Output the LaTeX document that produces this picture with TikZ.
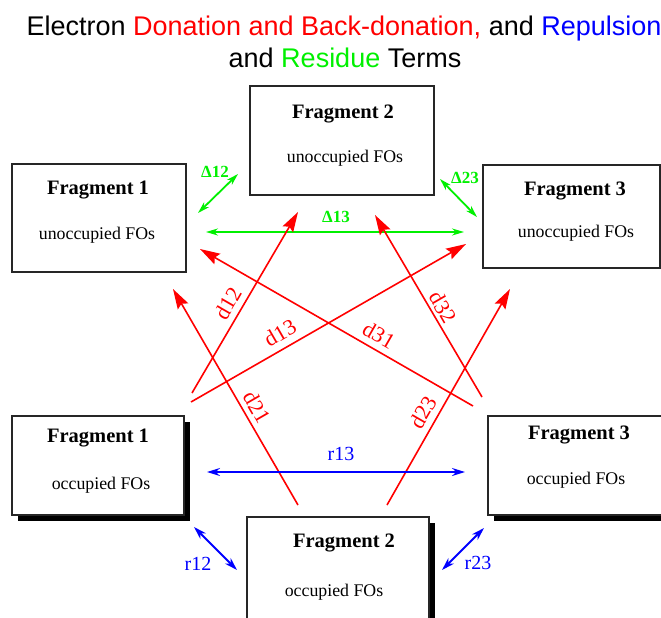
\documentclass[tikz,border=0pt]{standalone}
\usepackage{fontspec}
\setmainfont{Liberation Serif}
\newfontfamily\titlefont{Liberation Sans}
\usetikzlibrary{arrows.meta,shadows}
\definecolor{cred}{RGB}{255,0,0}
\definecolor{cgreen}{RGB}{0,240,0}
\definecolor{cblue}{RGB}{0,0,255}
\begin{document}
\begin{tikzpicture}[x=1pt,y=-1pt,
  box/.style={draw=black!85, line width=1.3pt, fill=white, inner sep=0, minimum width=#1},
  shbox/.style={box=#1, drop shadow={fill=black, opacity=1, shadow xshift=5.5pt, shadow yshift=-5.5pt}},
  ttl/.style={font=\bfseries\fontsize{20.5}{24}\selectfont, inner sep=0},
  sub/.style={font=\fontsize{17.8}{21}\selectfont, inner sep=0},
  ttxt/.style={font=\titlefont\fontsize{27}{31}\selectfont, inner sep=0, anchor=base},
  redarr/.style={cred, line width=1.6pt, -{Stealth[length=20pt,width=12pt,inset=3pt]}},
  grnarr/.style={cgreen, line width=1.8pt, {Stealth[length=12pt,width=7pt]}-{Stealth[length=12pt,width=7pt]}},
  bluarr/.style={cblue, line width=1.8pt, {Stealth[length=13pt,width=8pt]}-{Stealth[length=13pt,width=8pt]}},
  rlab/.style={text=cred, font=\fontsize{22}{26}\selectfont, inner sep=0},
  glab/.style={text=cgreen, font=\bfseries\fontsize{17}{20}\selectfont, inner sep=0},
  blab/.style={text=cblue, font=\fontsize{20}{24}\selectfont, inner sep=0}]
\clip (0,0) rectangle (661,618);
\fill[white] (0,0) rectangle (661,618);
% title
\node[ttxt] (t1) at (344,36) {Electron \textcolor{cred}{Donation and Back-donation,} and \textcolor{cblue}{Repulsion}};
\node[ttxt] (t2) at (345,67) {and \textcolor{cgreen}{Residue} Terms};
% unoccupied boxes
\node[box=174pt, minimum height=108pt] (f1u) at (99,218) {};
\node[box=184pt, minimum height=109pt] (f2u) at (342,140.5) {};
\node[box=177pt, minimum height=103pt] (f3u) at (571.5,216.5) {};
% occupied boxes
\node[shbox=172pt, minimum height=99pt] (f1o) at (98,465.5) {};
\node[shbox=182pt, minimum height=99pt] (f3o) at (579,465.5) {};
\node[shbox=182pt, minimum height=108pt] (f2o) at (338,571) {};
% texts
\node[ttl] (f1ut) at (98,190) {Fragment 1};
\node[sub] (f1us) at (97,235) {unoccupied FOs};
\node[ttl] (f2ut) at (343,114) {Fragment 2};
\node[sub] (f2us) at (345,158) {unoccupied FOs};
\node[ttl] (f3ut) at (575,191) {Fragment 3};
\node[sub] (f3us) at (576,233) {unoccupied FOs};
\node[ttl] (f1ot) at (98,438) {Fragment 1};
\node[sub] (f1os) at (101,485) {occupied FOs};
\node[ttl] (f3ot) at (579,435) {Fragment 3};
\node[sub] (f3os) at (576,480) {occupied FOs};
\node[ttl] (f2ot) at (344,543) {Fragment 2};
\node[sub] (f2os) at (334,592) {occupied FOs};
% arrow end coordinates
\coordinate (g12a) at (198,213); \coordinate (g12b) at (238,174);
\coordinate (g13a) at (206,232); \coordinate (g13b) at (464,232);
\coordinate (g23a) at (440,179); \coordinate (g23b) at (477,217);
\coordinate (d12a) at (192,393); \coordinate (d12b) at (298,212);
\coordinate (d13a) at (191,402); \coordinate (d13b) at (466,244);
\coordinate (d21a) at (298,505); \coordinate (d21b) at (173,289);
\coordinate (d31a) at (473,406); \coordinate (d31b) at (200,249);
\coordinate (d32a) at (482,397); \coordinate (d32b) at (375,215);
\coordinate (d23a) at (387,505); \coordinate (d23b) at (510,289);
\coordinate (r13a) at (207,472); \coordinate (r13b) at (465,472);
\coordinate (r12a) at (194,527); \coordinate (r12b) at (237,570);
\coordinate (r23a) at (484,528); \coordinate (r23b) at (442,570);
% green
\draw[grnarr] (g12a) -- (g12b);
\draw[grnarr] (g13a) -- (g13b);
\draw[grnarr] (g23a) -- (g23b);
\node[glab] (l12) at (215,172) {Δ12};
\node[glab] (l13) at (336,217) {Δ13};
\node[glab] (l23) at (465,178) {Δ23};
% red
\draw[redarr] (d12a) -- (d12b);
\draw[redarr] (d13a) -- (d13b);
\draw[redarr] (d21a) -- (d21b);
\draw[redarr] (d31a) -- (d31b);
\draw[redarr] (d32a) -- (d32b);
\draw[redarr] (d23a) -- (d23b);
\node[rlab, rotate=60] (ld12) at (228,303) {d12};
\node[rlab, rotate=30] (ld13) at (280,333) {d13};
\node[rlab, rotate=-60] (ld21) at (257,407) {d21};
\node[rlab, rotate=-30] (ld31) at (379,335) {d31};
\node[rlab, rotate=-60] (ld32) at (443,307) {d32};
\node[rlab, rotate=60] (ld23) at (423,412) {d23};
% blue
\draw[bluarr] (r13a) -- (r13b);
\draw[bluarr] (r12a) -- (r12b);
\draw[bluarr] (r23a) -- (r23b);
\node[blab] (lr13) at (341,454) {r13};
\node[blab] (lr12) at (198,564) {r12};
\node[blab] (lr23) at (478,563) {r23};
\end{tikzpicture}
\end{document}
